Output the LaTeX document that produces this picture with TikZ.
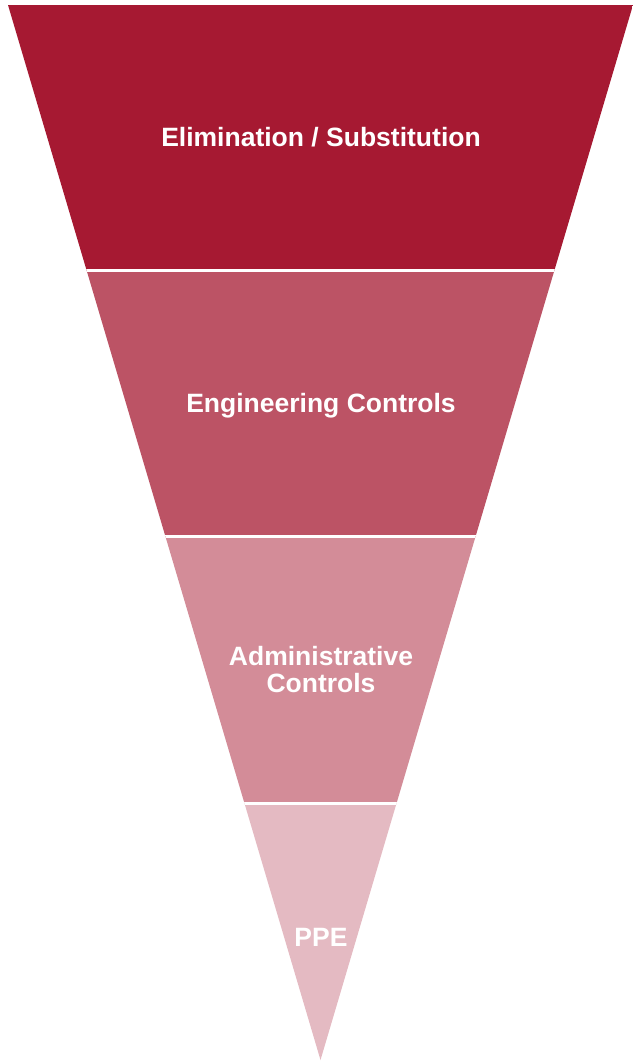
\documentclass[tikz,border=0pt]{standalone}
\usepackage{fontspec}
\setmainfont{Liberation Sans}
\usepackage{tikz}
\usetikzlibrary{positioning, calc}

\definecolor{hocred}{RGB}{166,25,50}

\tikzset{
  bandlabel/.style={text=white, font=\fontsize{26.5}{27}\selectfont\bfseries, align=center}
}

\begin{document}
\begin{tikzpicture}[x=1pt,y=-1pt]
                \useasboundingbox (0,0) rectangle (633,1061);
                \begin{scope}
                    \clip (8,5) -- (633,5) -- (320.5,1060) -- cycle;
                    \fill[hocred] (0,0) rectangle (633,270.5);
                    \fill[hocred!75] (0,270.5) rectangle (633,536.5);
                    \fill[hocred!50] (0,536.5) rectangle (633,803);
                    \fill[hocred!30] (0,803) rectangle (633,1061);
                    % white gaps between the bands
                    \foreach \y in {270.5,536.5,803}
                        \draw[white, line width=3pt] (0,\y) -- (633,\y);
                \end{scope}
                \node[bandlabel] (elim) at (321,137) {Elimination / Substitution};
                \node[bandlabel] (eng) at (321,406) {Engineering Controls};
                \node[bandlabel] (admin) at (321,670) {Administrative\\Controls};
                \node[bandlabel] (ppe) at (321,937) {PPE};
            \end{tikzpicture}
\end{document}
